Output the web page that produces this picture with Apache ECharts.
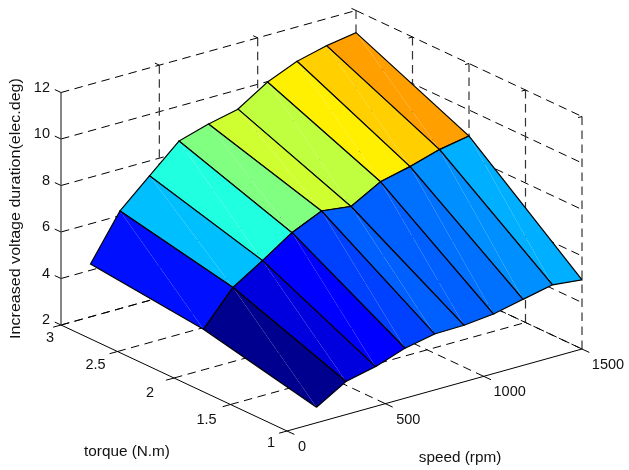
<!DOCTYPE html>
<html><head><meta charset="utf-8">
<style>html,body{margin:0;padding:0;background:#fff}#c{width:629px;height:470px}</style>
<script src="https://cdn.jsdelivr.net/npm/echarts@6/dist/echarts.min.js"></script>
</head><body><div id="c"></div>
<script>
// ---------- data ----------
const speeds = [150,300,450,600,750,900,1050,1200,1350,1500];
const torques = [1,2,3];
const zTorque1 = [2.67,3.42,3.71,4.15,4.41,4.43,4.56,4.84,5.11,4.97];
const zTorque2 = [3.74,5.19,5.99,6.84,7.42,7.26,7.97,8.27,8.65,8.88];
const zTorque3 = [4.27,6.20,7.36,8.50,8.88,9.17,9.98,10.52,10.84,11.05];
const speedTicks = [0,500,1000,1500];
const torqueTicks = [1,1.5,2,2.5,3];
const zTicks = [2,4,6,8,10,12];
const speedLabel = 'speed (rpm)';
const torqueLabel = 'torque (N.m)';
const zLabel = 'Increased voltage duration(elec.deg)';
// ---------- 3D view ----------
const rows = [zTorque1, zTorque2, zTorque3];
const P = (s,t,z) => [287 + s/1500*295 - (t-1)/2*226, 431 - s/1500*82 - (t-1)/2*106 - (z-2)/10*232.5];
const all = rows.flat(), zMin = Math.min(...all), zMax = Math.max(...all);
function jet(z){
  const j = Math.min(63, Math.floor((z-zMin)/(zMax-zMin)*64)) + 1;
  const cl = v => Math.round(255*Math.max(0,Math.min(1,v)));
  const r = j<=24?0 : j<=40?(j-24)/16 : j<=56?1 : 1-(j-56)/16;
  const g = j<=8?0 : j<=24?(j-8)/16 : j<=40?1 : j<=56?1-(j-40)/16 : 0;
  const b = j<=8?0.5+j/16 : j<=24?1 : j<=40?1-(j-24)/16 : 0;
  return `rgb(${cl(r)},${cl(g)},${cl(b)})`;
}
// facets, far to near
const facets = [];
for (let r = rows.length-2; r >= 0; r--)
  for (let i = speeds.length-2; i >= 0; i--) facets.push([r,i]);
// grid and axis segments [s0,t0,z0,s1,t1,z1]
const dashed = [], dashedV = [], solid = [], solidZ = [];
const sMin=0,sMax=1500,tMin=1,tMax=3,zB=2,zT=12;
zTicks.forEach(z=>{ dashed.push([sMin,tMax,z,sMax,tMax,z],[sMax,tMax,z,sMax,tMin,z]); });
speedTicks.forEach(s=>{ if(s>sMin) dashedV.push([s,tMax,zB,s,tMax,zT]);
  if(s>sMin) dashed.push([s,tMin,zB,s,tMax,zB]); });
torqueTicks.forEach(t=>{ if(t<tMax) dashedV.push([sMax,t,zB,sMax,t,zT]);
  if(t>tMin) dashed.push([sMin,t,zB,sMax,t,zB]); });
solidZ.push([sMin,tMax,zB,sMin,tMax,zT]);
solid.push([sMin,tMin,zB,sMin,tMax,zB],[sMin,tMin,zB,sMax,tMin,zB]);
zTicks.forEach(z=>solid.push([sMin,tMax,z,sMin,tMax+0.055,z]));
torqueTicks.forEach(t=>solid.push([sMin,t,zB,sMin-40,t,zB]));
speedTicks.forEach(s=>solid.push([s,tMin,zB,s,tMin-0.065,zB]));
speedTicks.forEach(s=>{ if(s>sMin) solid.push([s,tMax,zT,s,tMax+0.04,zT]); });
torqueTicks.forEach(t=>{ if(t<tMax) solid.push([sMax,t,zT,sMax-20,t,zT]); });
// text labels [text,x,y,align,rotation,stretch]
const labels = [];
zTicks.forEach(z=>{const p=P(sMin,tMax,z);labels.push([String(z),p[0]-11,p[1]-5,'right',0,1]);});
const tOff={3:[-11,13],2.5:[-22,13.5],2:[-24,15],1.5:[-24,15],1:[-16,12]};
torqueTicks.forEach(t=>{const p=P(sMin,t,zB);labels.push([String(t),p[0]+tOff[t][0],p[1]+tOff[t][1],'center',0,1]);});
const sOff={0:15,500:23,1000:26,1500:26};
speedTicks.forEach(s=>{const p=P(s,tMin,zB);labels.push([String(s),p[0]+sOff[s],p[1]+16,'center',0,1]);});
labels.push([torqueLabel,127,452,'center',0,1.056],[speedLabel,460,458,'center',0,1.056],[zLabel,16,208.5,'center',90,1.108]);

const lineSeries = (list,z,style) => ({type:'custom',coordinateSystem:'cartesian2d',silent:true,clip:false,z,
  data:list.map((_,i)=>[i,i]),
  renderItem:(params,api)=>{const d=list[params.dataIndex];
    const a=api.coord(P(d[0],d[1],d[2])), b=api.coord(P(d[3],d[4],d[5]));
    return {type:'line',shape:{x1:a[0],y1:a[1],x2:b[0],y2:b[1]},style:Object.assign({fill:null},style)};}});
const chart = echarts.init(document.getElementById('c'), null, {renderer:'canvas'});
chart.setOption({
  animation:false,
  backgroundColor:'#fff',
  grid:{left:0,right:0,top:0,bottom:0},
  xAxis:{type:'value',min:0,max:629,show:false},
  yAxis:{type:'value',min:0,max:470,inverse:true,show:false},
  series:[
    lineSeries(dashed,1,{stroke:'#000',lineWidth:1,lineDash:[8.5,5.5]}),
    lineSeries(dashedV,1,{stroke:'#333',lineWidth:1.2,lineDash:[8.5,5.5]}),
    lineSeries(solid,2,{stroke:'#000',lineWidth:1}),
    lineSeries(solidZ,2,{stroke:'#444',lineWidth:1.3}),
    {type:'custom',coordinateSystem:'cartesian2d',silent:true,clip:false,z:3,data:facets,
      renderItem:(params,api)=>{
        const [r,i]=facets[params.dataIndex];
        const pt=(rr,ii)=>api.coord(P(speeds[ii],torques[rr],rows[rr][ii]));
        const a=pt(r,i),b=pt(r,i+1),c=pt(r+1,i+1),d=pt(r+1,i);
        const col=jet(rows[r][i]);
        return {type:'group',children:[
          {type:'polygon',shape:{points:[a,b,c]},style:{fill:col}},
          {type:'polygon',shape:{points:[a,c,d]},style:{fill:col}},
          {type:'polyline',shape:{points:[a,b,c,d,a]},style:{stroke:'#000',lineWidth:1.2,fill:null}}
        ]};
      }},
    {type:'custom',coordinateSystem:'cartesian2d',silent:true,clip:false,z:4,data:labels.map(l=>[l[1],l[2]]),
      renderItem:(params,api)=>{
        const l=labels[params.dataIndex], p=api.coord([l[1],l[2]]);
        return {type:'text',x:p[0],y:p[1],rotation:l[4]*Math.PI/180,scaleX:l[5],
          style:{text:l[0],fill:'#111',font:'14.5px "Liberation Sans", Arial, sans-serif',textAlign:l[3],textVerticalAlign:'middle'}};
      }}
  ]
});
</script></body></html>
